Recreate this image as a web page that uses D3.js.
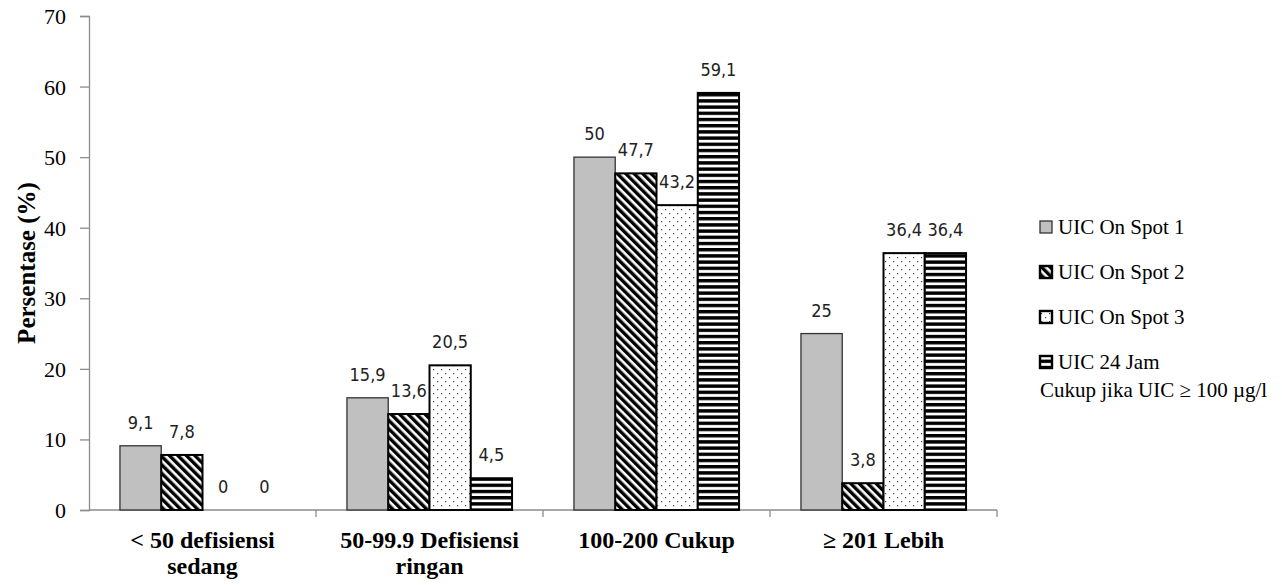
<!DOCTYPE html>
<html>
<head>
<meta charset="utf-8">
<script src="https://cdn.jsdelivr.net/npm/d3@7/dist/d3.min.js"></script>
<style>
  html, body { margin: 0; padding: 0; background: #fff; }
  svg { display: block; }
</style>
</head>
<body>
<svg id="chart" width="1282" height="585"></svg>
<script>
// ---- data ----
const categories = [
  ["< 50 defisiensi", "sedang"],
  ["50-99.9 Defisiensi", "ringan"],
  ["100-200 Cukup"],
  ["\u2265 201 Lebih"]
];
const seriesNames = ["UIC On Spot 1", "UIC On Spot 2", "UIC On Spot 3", "UIC 24 Jam"];
const spot1 = [9.1, 15.9, 50, 25];
const spot2 = [7.8, 13.6, 47.7, 3.8];
const spot3 = [0, 20.5, 43.2, 36.4];
const jam24 = [0, 4.5, 59.1, 36.4];
const yTicks = [0, 10, 20, 30, 40, 50, 60, 70];
const yTitle = "Persentase (%)";
const note = "Cukup jika UIC \u2265 100 \u00b5g/l";

const seriesValues = [spot1, spot2, spot3, jam24];

// ---- layout ----
const svg = d3.select("#chart");
const x0 = 89, x1 = 997, yBottom = 510, yTop = 16;
const serif = "'Liberation Serif', 'Times New Roman', serif";

const catKeys = categories.map((c, i) => "c" + i);
const x = d3.scaleBand().domain(catKeys).range([x0, x1]).padding(0);
const y = d3.scaleLinear().domain([0, 70]).range([yBottom, yTop]);
const bw = x.bandwidth() / 5.5;
const xs = d3.scaleBand().domain(seriesNames).range([0.75 * bw, 4.75 * bw]).padding(0);

// ---- patterns ----
const defs = svg.append("defs");
const pDiag = defs.append("pattern").attr("id", "pDiag").attr("patternUnits", "userSpaceOnUse")
  .attr("width", 6).attr("height", 6).attr("patternTransform", "rotate(-45)");
pDiag.append("rect").attr("width", 6).attr("height", 6).attr("fill", "#fff");
pDiag.append("rect").attr("x", 0).attr("y", 0).attr("width", 3.4).attr("height", 6).attr("fill", "#000");

const pDots = defs.append("pattern").attr("id", "pDots").attr("patternUnits", "userSpaceOnUse")
  .attr("width", 8).attr("height", 8);
pDots.append("rect").attr("width", 8).attr("height", 8).attr("fill", "#fff");
pDots.append("rect").attr("x", 1).attr("y", 1).attr("width", 1.2).attr("height", 1.2).attr("fill", "#444");
pDots.append("rect").attr("x", 5).attr("y", 5).attr("width", 1.2).attr("height", 1.2).attr("fill", "#444");

const pHor = defs.append("pattern").attr("id", "pHor").attr("patternUnits", "userSpaceOnUse")
  .attr("width", 8).attr("height", 6.2);
pHor.append("rect").attr("width", 8).attr("height", 6.2).attr("fill", "#fff");
pHor.append("rect").attr("x", 0).attr("y", 0).attr("width", 8).attr("height", 3.4).attr("fill", "#000");

const fills = ["#c0c0c0", "url(#pDiag)", "url(#pDots)", "url(#pHor)"];
const strokes = ["#333", "#000", "#000", "#000"];
const strokeW = [1.3, 2, 2, 2];

// ---- axes ----
const yAxis = d3.axisLeft(y).tickValues(yTicks).tickSize(9).tickPadding(14).tickFormat(d3.format("d"));
const gy = svg.append("g").attr("transform", `translate(${x0},0)`).call(yAxis);
gy.select(".domain").attr("stroke", "#8c8c8c").attr("stroke-width", 1.3);
gy.selectAll(".tick line").attr("stroke", "#8c8c8c").attr("stroke-width", 1.3);
gy.selectAll(".tick text").attr("font-family", serif)
  .attr("font-size", 22).attr("fill", "#000").attr("dy", "0.34em");

// x axis baseline and ticks at boundaries
const bounds = catKeys.map(k => x(k)).concat([x1]);
svg.append("line").attr("x1", x0).attr("x2", x1).attr("y1", yBottom).attr("y2", yBottom)
  .attr("stroke", "#8c8c8c").attr("stroke-width", 1.3);
svg.selectAll(".xtick").data(bounds.slice(1)).enter().append("line")
  .attr("x1", d => d).attr("x2", d => d).attr("y1", yBottom).attr("y2", yBottom + 7)
  .attr("stroke", "#8c8c8c").attr("stroke-width", 1.3);

// x labels
categories.forEach((lines, i) => {
  const cx = x(catKeys[i]) + x.bandwidth() / 2;
  const t = svg.append("text").attr("text-anchor", "middle")
    .attr("font-family", serif)
    .attr("font-weight", "bold").attr("font-size", 24).attr("fill", "#000");
  lines.forEach((ln, j) => {
    t.append("tspan").attr("x", cx).attr("y", 548 + j * 26).text(ln);
  });
});

// y title
svg.append("text").attr("transform", "translate(35,263) rotate(-90)")
  .attr("text-anchor", "middle")
  .attr("font-family", serif)
  .attr("font-weight", "bold").attr("font-size", 25).attr("fill", "#000")
  .text(yTitle);

// ---- bars ----
seriesValues.forEach((vals, si) => {
  const g = svg.append("g");
  vals.forEach((v, ci) => {
    const bx = x(catKeys[ci]) + xs(seriesNames[si]);
    if (v > 0) {
      g.append("rect").attr("x", bx).attr("y", y(v)).attr("width", xs.bandwidth())
        .attr("height", y(0) - y(v)).attr("fill", fills[si])
        .attr("stroke", strokes[si]).attr("stroke-width", strokeW[si]);
    }
    g.append("text").attr("x", bx + xs.bandwidth() / 2).attr("y", y(v) - 17)
      .attr("text-anchor", "middle")
      .attr("font-family", "'DejaVu Sans Condensed', 'DejaVu Sans', sans-serif")
      .attr("font-size", 18).attr("fill", "#222")
      .text(String(v).replace(".", ","));
  });
});

// ---- legend ----
const lg = svg.append("g");
seriesNames.forEach((n, i) => {
  const cy = 227 + i * 45;
  lg.append("rect").attr("x", 1040).attr("y", cy - 6).attr("width", 12).attr("height", 12)
    .attr("fill", fills[i]).attr("stroke", strokes[i]).attr("stroke-width", i === 0 ? 1.3 : 2.4);
  lg.append("text").attr("x", 1058).attr("y", cy + 7)
    .attr("font-family", serif)
    .attr("font-size", 21).attr("fill", "#000").text(n);
});
lg.append("text").attr("x", 1040).attr("y", 397)
  .attr("font-family", serif)
  .attr("font-size", 21).attr("fill", "#000").text(note);
</script>
</body>
</html>
